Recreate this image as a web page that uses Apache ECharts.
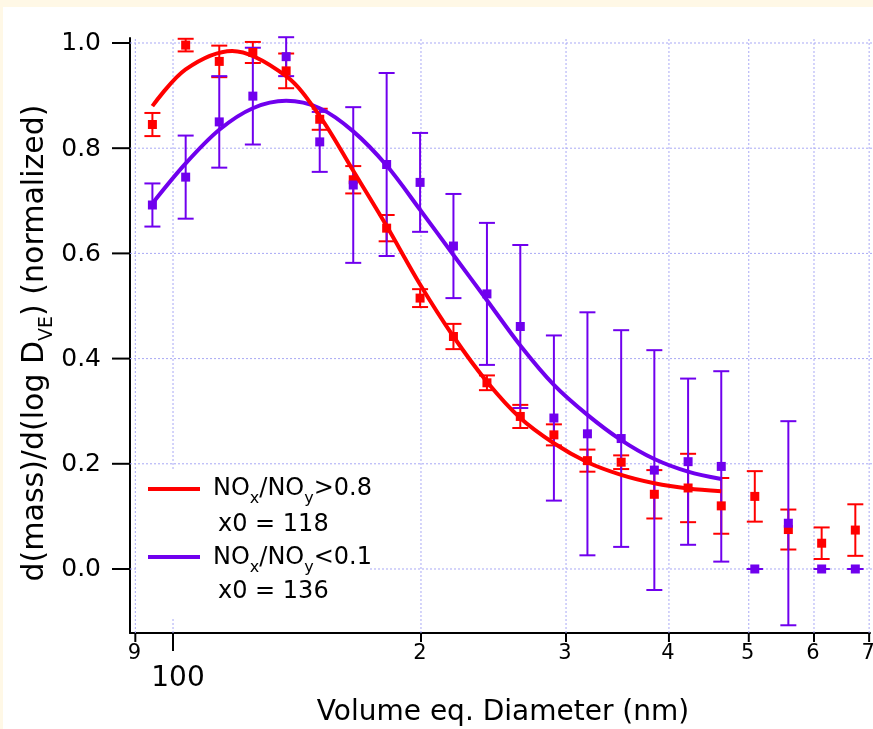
<!DOCTYPE html>
<html><head><meta charset="utf-8">
<script src="https://cdn.jsdelivr.net/npm/echarts@6/dist/echarts.min.js"></script>
<style>html,body{margin:0;padding:0;background:#fff;}#c{width:873px;height:729px;}</style>
</head><body><div id="c"></div>
<script>
// ---- data ----
const binX = [94.4, 103.6, 113.8, 125.0, 137.2, 150.7, 165.5, 181.7, 199.5, 219.0, 240.5, 264.0, 290.0, 318.5, 350.0, 384.0, 422.0, 463.0, 508.5, 558.5, 613.0, 673.5];
const redY = [0.845, 0.996, 0.965, 0.982, 0.947, 0.855, 0.740, 0.648, 0.515, 0.442, 0.354, 0.290, 0.255, 0.206, 0.203, 0.142, 0.154, 0.120, 0.138, 0.075, 0.049, 0.074];
const redErr = [0.022, 0.012, 0.030, 0.020, 0.033, 0.020, 0.026, 0.025, 0.017, 0.024, 0.014, 0.022, 0.020, 0.021, 0.013, 0.046, 0.065, 0.053, 0.048, 0.038, 0.030, 0.049];
const purpleY = [0.692, 0.745, 0.850, 0.899, 0.974, 0.812, 0.730, 0.769, 0.735, 0.614, 0.523, 0.461, 0.287, 0.257, 0.248, 0.188, 0.204, 0.195, 0.000, 0.087, 0.000, 0.000];
const purpleErr = [0.041, 0.079, 0.087, 0.092, 0.037, 0.057, 0.148, 0.174, 0.094, 0.099, 0.135, 0.155, 0.157, 0.231, 0.206, 0.228, 0.158, 0.181, 0.000, 0.194, 0.000, 0.000];

const redFitX = [94.4, 103.6, 118, 137.2, 150.7, 165.5, 181.7, 199.5, 219, 240.5, 264, 290, 318.5, 350, 384, 422, 463];
const redFitY = [0.880, 0.950, 0.985, 0.937, 0.861, 0.757, 0.652, 0.541, 0.442, 0.356, 0.287, 0.239, 0.203, 0.179, 0.163, 0.153, 0.148];
const purpleFitX = [94.4, 103.6, 113.8, 125, 137.2, 150.7, 165.5, 181.7, 199.5, 219, 240.5, 264, 290, 318.5, 350, 384, 422, 463];
const purpleFitY = [0.695, 0.771, 0.835, 0.876, 0.890, 0.876, 0.832, 0.767, 0.683, 0.597, 0.511, 0.425, 0.350, 0.293, 0.245, 0.209, 0.185, 0.171];

const yTicks = [0, 0.2, 0.4, 0.6, 0.8, 1.0];
const yTickLabels = ['0.0', '0.2', '0.4', '0.6', '0.8', '1.0'];
const xMinorTicks = [90, 200, 300, 400, 500, 600, 700];
const xMinorLabels = ['9', '2', '3', '4', '5', '6', '7'];
const xMajorTicks = [100];
const xMajorLabels = ['100'];
const xGrid = [90, 100, 200, 300, 400, 500, 600, 700];
const yGrid = [0, 0.2, 0.4, 0.6, 0.8, 1.0];

const X_MIN = 88.67, X_MAX = 701.7, Y_MIN = -0.1217, Y_MAX = 1.0095;
const RED = '#ff0000', PURPLE = '#7000ee', GRIDC = '#a9a9f5';
const FONT = '"DejaVu Sans", sans-serif';

const chart = echarts.init(document.getElementById('c'), null, {renderer: 'canvas'});

function errSeries(name, ys, errs, color, z) {
  return {
    name: name, type: 'custom', z: z, clip: false,
    data: binX.map((x, i) => [x, ys[i], errs[i]]),
    encode: {x: 0, y: 1},
    renderItem: function (params, api) {
      const x = api.value(0), y = api.value(1), e = api.value(2);
      const t = api.coord([x, y + e]), b = api.coord([x, y - e]);
      const hw = 8, st = {stroke: color, lineWidth: 2};
      return {type: 'group', children: [
        {type: 'line', shape: {x1: t[0], y1: t[1], x2: b[0], y2: b[1]}, style: st},
        {type: 'line', shape: {x1: t[0] - hw, y1: t[1], x2: t[0] + hw, y2: t[1]}, style: st},
        {type: 'line', shape: {x1: b[0] - hw, y1: b[1], x2: b[0] + hw, y2: b[1]}, style: st}
      ]};
    }
  };
}

const option = {
  backgroundColor: '#ffffff',
  animation: false,
  grid: {left: 130, right: 3, top: 38, bottom: 96, containLabel: false},
  xAxis: {
    type: 'log', logBase: 10, min: X_MIN, max: X_MAX,
    axisLine: {show: true, onZero: false, lineStyle: {color: '#000', width: 2}},
    axisTick: {show: false}, axisLabel: {show: false}, splitLine: {show: false}
  },
  yAxis: {
    type: 'value', min: Y_MIN, max: Y_MAX,
    axisLine: {show: true, onZero: false, lineStyle: {color: '#000', width: 2}},
    axisTick: {show: false}, axisLabel: {show: false}, splitLine: {show: false}
  },
  series: [
    { // vertical grid lines
      type: 'custom', z: 1, clip: false, silent: true,
      data: xGrid.map(v => [v, 0]), encode: {x: 0, y: 1},
      renderItem: function (params, api) {
        const v = api.value(0);
        const a = api.coord([v, Y_MIN]), b = api.coord([v, Y_MAX]);
        return {type: 'line', shape: {x1: a[0], y1: a[1], x2: b[0], y2: b[1] - 1},
          style: {stroke: GRIDC, lineWidth: 1, lineDash: [2, 2]}};
      }
    },
    { // horizontal grid lines
      type: 'custom', z: 1, clip: false, silent: true,
      data: yGrid.map(v => [X_MIN, v]), encode: {x: 0, y: 1},
      renderItem: function (params, api) {
        const v = api.value(1);
        const a = api.coord([X_MIN, v]), b = api.coord([X_MAX, v]);
        return {type: 'line', shape: {x1: a[0], y1: a[1], x2: b[0] + 3, y2: b[1]},
          style: {stroke: GRIDC, lineWidth: 1, lineDash: [2, 2]}};
      }
    },
    { // y ticks + labels
      type: 'custom', z: 20, clip: false, silent: true,
      data: yTicks.map(v => [X_MIN, v]), encode: {x: 0, y: 1},
      renderItem: function (params, api) {
        const p = api.coord([X_MIN, api.value(1)]);
        return {type: 'group', children: [
          {type: 'line', shape: {x1: p[0] - 18, y1: p[1], x2: p[0], y2: p[1]}, style: {stroke: '#000', lineWidth: 2}},
          {type: 'text', x: p[0] - 29, y: p[1] + 1, style: {text: yTickLabels[params.dataIndex], fill: '#000',
            fontSize: 25, fontFamily: FONT, align: 'right', verticalAlign: 'middle'}}
        ]};
      }
    },
    { // x minor ticks + labels
      type: 'custom', z: 20, clip: false, silent: true,
      data: xMinorTicks.map(v => [v, Y_MIN]), encode: {x: 0, y: 1},
      renderItem: function (params, api) {
        const p = api.coord([api.value(0), Y_MIN]);
        return {type: 'group', children: [
          {type: 'line', shape: {x1: p[0], y1: p[1], x2: p[0], y2: p[1] + 9}, style: {stroke: '#000', lineWidth: 2}},
          {type: 'text', x: p[0] - 1, y: p[1] + 21, style: {text: xMinorLabels[params.dataIndex], fill: '#000',
            fontSize: 21, fontFamily: FONT, align: 'center', verticalAlign: 'middle'}}
        ]};
      }
    },
    { // x major ticks + labels
      type: 'custom', z: 20, clip: false, silent: true,
      data: xMajorTicks.map(v => [v, Y_MIN]), encode: {x: 0, y: 1},
      renderItem: function (params, api) {
        const p = api.coord([api.value(0), Y_MIN]);
        return {type: 'group', children: [
          {type: 'line', shape: {x1: p[0], y1: p[1], x2: p[0], y2: p[1] + 18}, style: {stroke: '#000', lineWidth: 2}},
          {type: 'text', x: p[0] + 5, y: p[1] + 46, style: {text: xMajorLabels[params.dataIndex], fill: '#000',
            fontSize: 28, fontFamily: FONT, align: 'center', verticalAlign: 'middle'}}
        ]};
      }
    },
    errSeries('redErr', redY, redErr, RED, 10),
    errSeries('purpleErr', purpleY, purpleErr, PURPLE, 11),
    {
      name: 'red', type: 'scatter', z: 12, symbol: 'rect', symbolSize: 9,
      itemStyle: {color: RED, opacity: 1}, data: binX.map((x, i) => [x, redY[i]])
    },
    {
      name: 'purple', type: 'scatter', z: 13, symbol: 'rect', symbolSize: 9,
      itemStyle: {color: PURPLE, opacity: 1}, data: binX.map((x, i) => [x, purpleY[i]])
    },
    {
      name: 'purpleFit', type: 'line', z: 14, smooth: 0.33, showSymbol: false, symbol: 'none',
      lineStyle: {color: PURPLE, width: 4}, data: purpleFitX.map((x, i) => [x, purpleFitY[i]])
    },
    {
      name: 'redFit', type: 'line', z: 15, smooth: 0.33, showSymbol: false, symbol: 'none',
      lineStyle: {color: RED, width: 4}, data: redFitX.map((x, i) => [x, redFitY[i]])
    }
  ],
  graphic: [
    {type: 'rect', z: 100, shape: {x: 0, y: 0, width: 873, height: 7}, style: {fill: '#fff8e6'}},
    {type: 'rect', z: 100, shape: {x: 0, y: 0, width: 3, height: 729}, style: {fill: '#fff8e6'}},
    {type: 'rect', z: 5, shape: {x: 138, y: 470, width: 230, height: 149}, style: {fill: '#ffffff'}},
    {type: 'line', z: 30, shape: {x1: 148, y1: 489, x2: 200, y2: 489}, style: {stroke: RED, lineWidth: 4}},
    {type: 'line', z: 30, shape: {x1: 148, y1: 557, x2: 200, y2: 557}, style: {stroke: PURPLE, lineWidth: 4}},
    {type: 'text', z: 30, x: 213, y: 489, style: {
      text: 'NO{s|x}/NO{s|y}>0.8', fill: '#000', fontSize: 24, fontFamily: FONT,
      verticalAlign: 'middle', lineHeight: 36,
      rich: {s: {fontSize: 16, fontFamily: FONT, verticalAlign: 'bottom', lineHeight: 16}}}},
    {type: 'text', z: 30, x: 218, y: 525, style: {text: 'x0 = 118', fill: '#000', fontSize: 24, fontFamily: FONT, verticalAlign: 'middle'}},
    {type: 'text', z: 30, x: 213, y: 558, style: {
      text: 'NO{s|x}/NO{s|y}<0.1', fill: '#000', fontSize: 24, fontFamily: FONT,
      verticalAlign: 'middle', lineHeight: 36,
      rich: {s: {fontSize: 16, fontFamily: FONT, verticalAlign: 'bottom', lineHeight: 16}}}},
    {type: 'text', z: 30, x: 218, y: 592, style: {text: 'x0 = 136', fill: '#000', fontSize: 24, fontFamily: FONT, verticalAlign: 'middle'}},
    {type: 'text', z: 30, x: 503, y: 713, style: {text: 'Volume eq. Diameter (nm)', fill: '#000', fontSize: 28, fontFamily: FONT,
      align: 'center', verticalAlign: 'middle'}},
    {type: 'text', z: 30, x: 35, y: 343, rotation: Math.PI / 2, style: {
      text: 'd(mass)/d(log D{s|VE}) (normalized)', fill: '#000', fontSize: 30, fontFamily: FONT,
      align: 'center', verticalAlign: 'middle', lineHeight: 44,
      rich: {s: {fontSize: 19, fontFamily: FONT, verticalAlign: 'bottom', lineHeight: 19}}}}
  ]
};
chart.setOption(option);
</script>
</body></html>
